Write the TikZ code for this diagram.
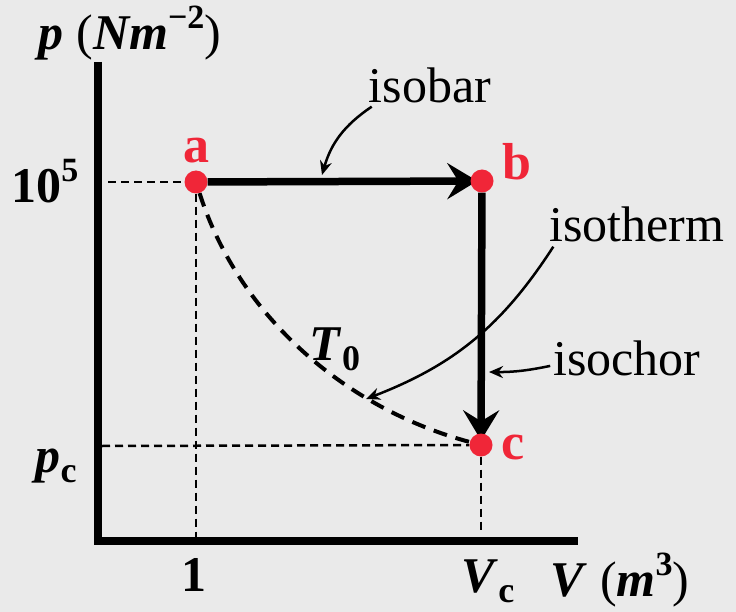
\documentclass[tikz,border=0pt]{standalone}
\usepackage{fontspec}
\setmainfont{Liberation Serif}
\usetikzlibrary{arrows.meta}
\pgfdeclarelayer{paper}
\pgfdeclarelayer{under}
\pgfsetlayers{paper,under,main}
\definecolor{ptred}{RGB}{240,38,56}
\definecolor{paper}{RGB}{234,234,234}
\newcommand{\bi}[1]{\textbf{\textit{#1}}}
\newcommand{\lowsub}[1]{\raisebox{-0.2em}{\fontsize{36}{36}\selectfont\bfseries #1}}
\newcommand{\highsup}[1]{\raisebox{0.42em}{\fontsize{34}{34}\selectfont\bfseries #1}}
\begin{document}
\begin{tikzpicture}[x=1pt,y=-1pt,
  every node/.style={font=\fontsize{50}{56}\selectfont,inner sep=0pt},
  state/.style={circle,fill=ptred,minimum size=23pt},
  statelabel/.style={anchor=base,text=ptred,font=\fontsize{52}{56}\selectfont\bfseries},
  axislabel/.style={anchor=base},
  process/.style={line width=7.5pt,shorten >=-7pt,-{Stealth[length=30pt,width=36pt,inset=11pt]}},
  guide/.style={line width=2.5pt,dash pattern=on 8pt off 5pt},
  callout/.style={line width=2.5pt,-{Stealth[length=14pt,width=12pt]}}]
  % background
  \begin{pgfonlayer}{paper}
    \fill[paper] (0,0) rectangle (736,612);
  \end{pgfonlayer}
  \useasboundingbox (0,0) rectangle (736,612);
  % Axes
  \coordinate (origin) at (98,541);
  \draw[line width=8pt] (98,62) -- (origin) -- (578,541);
  % States
  \node[state] (a) at (196,182) {};
  \node[state] (b) at (482,181) {};
  \node[state] (c) at (481,445) {};
  \begin{pgfonlayer}{under}
    % Guides
    \draw[guide] (108,182) -- (a);
    \draw[guide] (a) -- (a |- origin);
    \draw[guide] (102,446) -- (c);
    \draw[guide] (c) -- (c |- 0,532);
    % Isotherm
    \draw[line width=4pt,dash pattern=on 14pt off 9pt] (a)
      .. controls (240,320) and (350,410) .. (c);
    % Processes
    \draw[process] (a) -- (b);
    \draw[process] (b) -- (c);
  \end{pgfonlayer}
  % Labels
  \node[axislabel] (ylab) at (130,50) {\bi{p} (\bi{Nm}\highsup{−2})};
  \node[axislabel] (xlab) at (620,596) {\bi{V} (\bi{m}\highsup{3})};
  \node[axislabel] (pa) at (45,203) {\textbf{10}\highsup{5}};
  \node[axislabel] (pc) at (56,472) {\bi{p}\lowsub{c}};
  \node[axislabel] (va) at (194,591) {\textbf{1}};
  \node[axislabel] (vc) at (488,592) {\bi{V}\lowsub{c}};
  \node[axislabel] (temp) at (335,360) {\bi{T}\lowsub{0}};
  \node[statelabel] (la) at (196,163) {a};
  \node[statelabel] (lb) at (517,180) {b};
  \node[statelabel] (lc) at (513,459) {c};
  % Annotations
  \node[anchor=base] (isobar) at (430,103) {isobar};
  \node[anchor=base] (isotherm) at (637,242) {isotherm};
  \node[anchor=base] (isochor) at (627,375) {isochor};
  \coordinate (onab) at (322,175);
  \coordinate (onac) at (366,399);
  \coordinate (onbc) at (489,372);
  \draw[callout] ([shift={(3,3)}]isobar.south west) to[bend right=20] (onab);
  \draw[callout] ([shift={(4,4)}]isotherm.south west) to[bend left=18] (onac);
  \draw[callout] ([shift={(-3,8)}]isochor.west) to[bend left=6] (onbc);
\end{tikzpicture}
\end{document}
